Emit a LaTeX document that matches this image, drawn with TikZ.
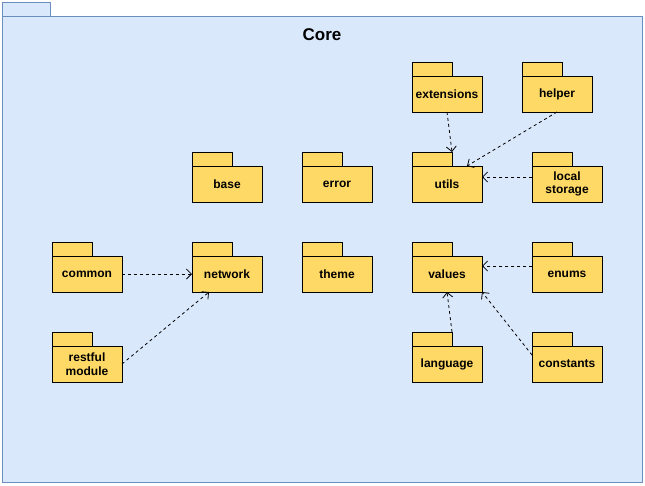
\documentclass[tikz,border=0pt]{standalone}
\usepackage{fontspec}
\setmainfont{Liberation Sans}
\usetikzlibrary{calc,arrows.meta}

\definecolor{corefill}{HTML}{DAE8FC}
\definecolor{coreline}{HTML}{6C8EBF}
\definecolor{pkgyellow}{HTML}{FFD966}

\begin{document}
\begin{tikzpicture}[x = 1pt, y = -1pt, line width = 1pt,
    pkg/.style = {draw, fill = pkgyellow, minimum width = 70pt, minimum height = 36pt,
      inner sep = 0pt, outer sep = 0pt, align = center,
      font = \bfseries\fontsize{12}{13.5}\selectfont},
    dep/.style = {-{Straight Barb[length = 5pt, width = 10pt]}, line width = 0.8pt,
      dash pattern = on 3pt off 3pt}]
      \useasboundingbox (0,0) rectangle (645,485);
      \draw [fill = corefill, draw = coreline] (2,2) rectangle (50,16);
      \draw [fill = corefill, draw = coreline] (2,16) rectangle (642,482);
      \node [font = \bfseries\fontsize{17}{19}\selectfont] (core) at (322,35) {Core};
      \foreach \name/\x/\y/\txt in {base/227/184/base, error/337/184/error,
          utils/447/184/utils, extensions/447/94/extensions, helper/557/94/helper,
          localst/567/184/{local\\storage}, common/87/274/common, network/227/274/network,
          theme/337/274/theme, values/447/274/values, enums/567/274/enums,
          restful/87/364/{restful\\module}, language/447/364/language,
          constants/567/364/constants}{
        \node [pkg] (\name) at (\x,\y) {\txt};
        \draw [fill = pkgyellow] (\name.north west) rectangle ++(40,-14);
      }
      \draw [dep] (extensions.south) -- ($(utils.north west)+(40,-14)$);
      \draw [dep] (helper.south) -- ([xshift = 20pt]utils.north);
      \draw [dep] ([yshift = 7pt]localst.west) -- ([yshift = 7pt]utils.east);
      \draw [dep] (common) -- (network);
      \draw [dep] (restful.east) -- ([xshift = -18pt]network.south);
      \draw [dep] ([yshift = 8pt]enums.west) -- ([yshift = 8pt]values.east);
      \draw [dep] ($(language.north west)+(40,-14)$) -- (values.south);
      \draw [dep] ([yshift = 9pt]constants.west) -- (values.south east);
    \end{tikzpicture}
\end{document}
